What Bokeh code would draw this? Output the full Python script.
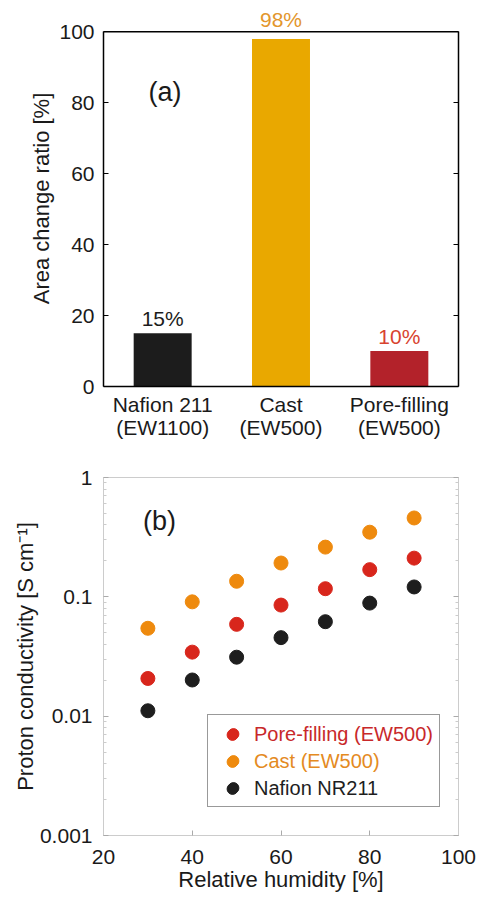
from bokeh.plotting import figure
from bokeh.models import (FactorRange, Range1d, ColumnDataSource, Label, LinearAxis, LogAxis, Span,
                          FixedTicker, CustomJSTickFormatter, Legend, LegendItem)
from bokeh.layouts import column
from bokeh.embed import file_html
from bokeh.resources import INLINE
from bokeh.core.properties import value

FONT = "Liberation Sans"

# ---- (a) data ----
categories = ["Nafion 211\n(EW1100)", "Cast\n(EW500)", "Pore-filling\n(EW500)"]
area_change = [15, 98, 10]
bar_labels = ["15%", "98%", "10%"]
bar_colors = ["#1c1c1c", "#e9a800", "#b3222a"]
label_colors = ["#1c1c1c", "#e3962c", "#d8432f"]
area_ticks = [0, 20, 40, 60, 80, 100]
area_max = 100

# ---- (b) data ----
humidity = [30, 40, 50, 60, 70, 80, 90]
pore_filling = [0.0207, 0.0344, 0.0588, 0.0853, 0.117, 0.169, 0.211]
cast = [0.0545, 0.0908, 0.135, 0.192, 0.261, 0.348, 0.458]
nafion = [0.0111, 0.0201, 0.0312, 0.0455, 0.0619, 0.0886, 0.121]
series_names = ["Pore-filling (EW500)", "Cast (EW500)", "Nafion NR211"]
series_colors = ["#d8261c", "#ee8a0e", "#1e1e1e"]
legend_text_colors = ["#c8282a", "#e48a22", "#1e1e1e"]
humidity_ticks = [20, 40, 60, 80, 100]
conductivity_ticks = [0.001, 0.01, 0.1, 1]
conductivity_minor = [m * t for t in conductivity_ticks[:-1] for m in range(2, 10)]

# ================= panel (a) =================
# the range runs a little past 100 so the "98%" label has room; the box is closed at 100
p1 = figure(width=481, height=445,
            x_range=FactorRange(factors=categories, range_padding=0),
            y_range=Range1d(0, area_max * 1.06),
            output_backend="svg", toolbar_location=None,
            min_border_left=102, min_border_right=23, min_border_top=10, min_border_bottom=59)
p1.xgrid.visible = False
p1.ygrid.visible = False
p1.outline_line_color = None
p1.add_layout(Span(location=area_max, dimension="width", line_color="black", line_width=1.5))

src1 = ColumnDataSource(dict(cat=categories, val=area_change, color=bar_colors))
p1.vbar(x="cat", top="val", width=0.49, fill_color="color", line_color=None, source=src1)
# value labels (factor i sits at synthetic coordinate i + 0.5); labels near the top clear the frame line
for i, (v, t, tc) in enumerate(zip(area_change, bar_labels, label_colors)):
    off = 8 if v > 0.9 * area_max else 3
    p1.add_layout(Label(x=i + 0.5, y=v, text=t, text_color=tc, y_offset=off,
                        text_align="center", text_baseline="bottom",
                        text_font=FONT, text_font_size="21px"))
p1.add_layout(Label(x=0.38, y=83, text="(a)", text_baseline="middle",
                    text_font=FONT, text_font_size="27px", text_color="#1a1a1a"))

ya = p1.yaxis[0]
ya.ticker = FixedTicker(ticks=area_ticks)
ya.bounds = (0, area_max)
ya.axis_label = "Area change ratio [%]"
ya.axis_label_text_font = FONT
ya.axis_label_text_font_size = "22px"
ya.axis_label_text_font_style = "normal"
ya.axis_label_text_color = "#1a1a1a"
ya.axis_label_standoff = 2
ya.major_label_text_font = FONT
ya.major_label_text_font_size = "21px"
ya.major_label_text_color = "#1a1a1a"
ya.major_label_standoff = 9
ya.major_tick_in = 5
ya.major_tick_out = 0
ya.minor_tick_line_color = None
ya.axis_line_color = "black"
ya.axis_line_width = 1.5

ra = LinearAxis(ticker=FixedTicker(ticks=area_ticks), formatter=CustomJSTickFormatter(code="return ''"),
                bounds=(0, area_max),
                major_tick_in=5, major_tick_out=0, minor_tick_line_color=None,
                axis_line_color="black", axis_line_width=1.5, major_label_standoff=0)
p1.add_layout(ra, "right")

xa = p1.xaxis[0]
xa.major_tick_in = 0
xa.major_tick_out = 0
xa.minor_tick_line_color = None
xa.axis_line_color = "black"
xa.axis_line_width = 1.5
xa.major_label_text_font = FONT
xa.major_label_text_font_size = "21px"
xa.major_label_text_color = "#1a1a1a"
xa.major_label_text_line_height = 1.0
xa.major_label_standoff = 6

# ================= panel (b) =================
p2 = figure(width=481, height=453,
            x_range=Range1d(20, 100), y_range=Range1d(0.001, 1), y_axis_type="log",
            output_backend="svg", toolbar_location=None,
            min_border_left=103, min_border_right=20, min_border_top=32, min_border_bottom=63)
p2.xgrid.visible = False
p2.ygrid.visible = False
p2.outline_line_color = "#cccccc"
p2.outline_line_width = 1

renderers = []
for ys, col in zip([pore_filling, cast, nafion], series_colors):
    s = ColumnDataSource(dict(x=humidity, y=ys))
    renderers.append(p2.scatter(x="x", y="y", size=14, fill_color=col, line_color=col, source=s))

p2.add_layout(Label(x=28.9, y=0.43, text="(b)", text_baseline="middle",
                    text_font=FONT, text_font_size="27px", text_color="#1a1a1a"))

xb = p2.xaxis[0]
xb.ticker = FixedTicker(ticks=humidity_ticks)
xb.axis_label = "Relative humidity [%]"
xb.axis_label_text_font = FONT
xb.axis_label_text_font_size = "22px"
xb.axis_label_text_font_style = "normal"
xb.axis_label_text_color = "#1a1a1a"
xb.axis_label_standoff = 0
xb.major_label_text_font = FONT
xb.major_label_text_font_size = "21px"
xb.major_label_text_color = "#1a1a1a"
xb.major_label_standoff = 14
xb.major_tick_in = 5
xb.major_tick_out = 0
xb.minor_tick_line_color = None
xb.axis_line_color = "#cccccc"
xb.major_tick_line_color = "#aaaaaa"

yb = p2.yaxis[0]
yb.ticker = FixedTicker(ticks=conductivity_ticks, minor_ticks=conductivity_minor)
yb.formatter = CustomJSTickFormatter(code="return String(parseFloat(tick.toPrecision(3)))")
yb.axis_label = "Proton conductivity [S cm\u207b\u00b9]"
yb.axis_label_text_font = FONT
yb.axis_label_text_font_size = "22px"
yb.axis_label_text_font_style = "normal"
yb.axis_label_text_color = "#1a1a1a"
yb.axis_label_standoff = -1
yb.major_label_text_font = FONT
yb.major_label_text_font_size = "21px"
yb.major_label_text_color = "#1a1a1a"
yb.major_label_standoff = 11
yb.major_tick_in = 5
yb.major_tick_out = 0
yb.minor_tick_in = 3
yb.minor_tick_out = 0
yb.axis_line_color = "#cccccc"
yb.major_tick_line_color = "#aaaaaa"
yb.minor_tick_line_color = "#cccccc"

rb = LogAxis(ticker=FixedTicker(ticks=conductivity_ticks, minor_ticks=conductivity_minor),
             formatter=CustomJSTickFormatter(code="return ''"),
             major_tick_in=5, major_tick_out=0, minor_tick_in=3, minor_tick_out=0,
             axis_line_color="#cccccc", major_tick_line_color="#aaaaaa",
             minor_tick_line_color="#cccccc", major_label_standoff=0)
p2.add_layout(rb, "right")

# legend: one bordered legend for the box and glyphs, overlays for coloured labels
LX, LY, ROW = 104, 28, 27
common = dict(padding=5, spacing=0, label_height=ROW, glyph_height=ROW, glyph_width=40,
              label_standoff=2, label_text_font=FONT, label_text_font_size="20px", margin=0)
box = Legend(items=[LegendItem(label=value(n), renderers=[r]) for n, r in zip(series_names, renderers)],
             location=(LX, LY), label_text_alpha=0, border_line_color="#333333",
             border_line_width=1.5, background_fill_color="white", background_fill_alpha=1, **common)
p2.add_layout(box, "center")
n_items = len(series_names)
for i, (n, r, tc) in enumerate(zip(series_names, renderers, legend_text_colors)):
    lg = Legend(items=[LegendItem(label=value(n), renderers=[r])],
                location=(LX, LY + ROW * (n_items - 1 - i)), label_text_color=tc,
                border_line_alpha=0, background_fill_alpha=0, **common)
    p2.add_layout(lg, "center")

layout = column(p1, p2)
open("out.html", "w").write(file_html(layout, INLINE))
